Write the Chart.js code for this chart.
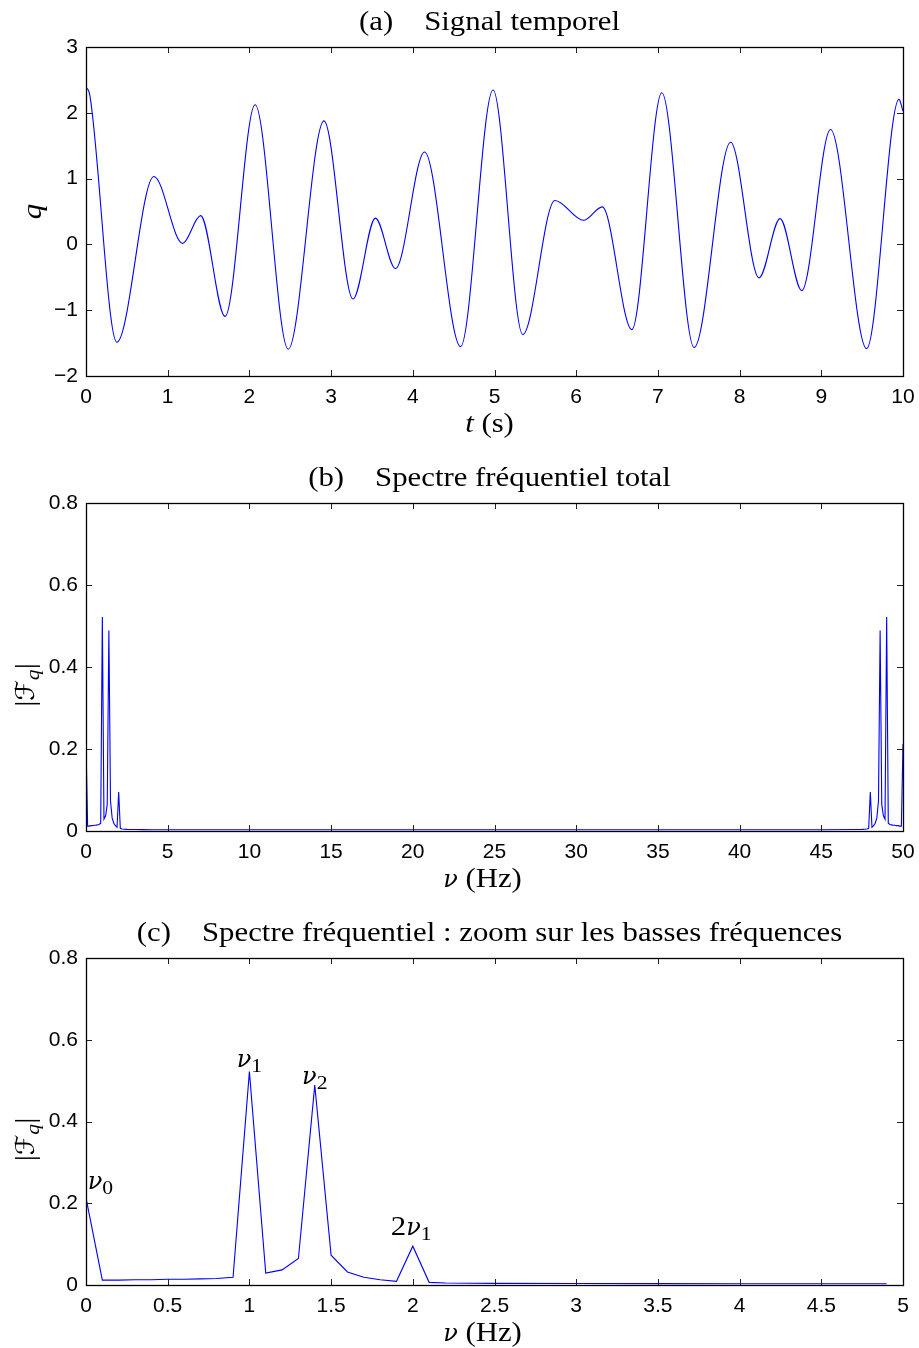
<!DOCTYPE html>
<html><head><meta charset="utf-8">
<script src="https://cdn.jsdelivr.net/npm/chart.js@4.4.1/dist/chart.umd.min.js"></script>
<style>
html,body{margin:0;padding:0;background:#fff;}
#wrap{position:relative;width:919px;height:1348px;background:#fff;}
canvas{position:absolute;left:0;}
</style></head><body>
<div id="wrap">
<canvas id="ca" width="919" height="450" style="top:0px"></canvas>
<canvas id="cb" width="919" height="455" style="top:450px"></canvas>
<canvas id="cc" width="919" height="443" style="top:905px"></canvas>
</div>
<script>
// ---------- data ----------
// (a) time signal: sampled at the extrema read from the picture
const timeS = [0, 0.045, 0.377, 0.831, 1.183, 1.403, 1.702, 2.070, 2.475, 2.913, 3.268, 3.542, 3.788, 4.144, 4.585, 4.982, 5.346, 5.739, 6.090, 6.319, 6.681, 7.048, 7.444, 7.890, 8.238, 8.495, 8.761, 9.113, 9.555, 9.951, 10.0];
const qValues = [2.39, 2.28, -1.486, 1.033, 0.015, 0.438, -1.094, 2.122, -1.593, 1.878, -0.830, 0.400, -0.366, 1.405, -1.552, 2.346, -1.369, 0.667, 0.366, 0.570, -1.295, 2.305, -1.567, 1.552, -0.509, 0.392, -0.702, 1.746, -1.583, 2.204, 2.025];
const timeTicks = [0,1,2,3,4,5,6,7,8,9,10];
const timeTickLabels = ['0','1','2','3','4','5','6','7','8','9','10'];
const qTicks = [-2,-1,0,1,2,3];
const qTickLabels = ['\u22122','\u22121','0','1','2','3'];

// (b)/(c) spectrum |F_q|
const lowFreqHz  = [0, 0.1, 0.2, 0.3, 0.4, 0.5, 0.6, 0.7, 0.8, 0.9, 1.0, 1.1, 1.2, 1.3, 1.4, 1.5, 1.6, 1.7, 1.8, 1.9, 2.0, 2.1, 2.2, 2.5, 3.0, 3.5, 4.0, 4.5, 4.9];
const lowFreqAmp = [0.213, 0.012, 0.012, 0.013, 0.013, 0.014, 0.014, 0.015, 0.016, 0.019, 0.522, 0.029, 0.037, 0.065, 0.489, 0.073, 0.032, 0.019, 0.013, 0.009, 0.095, 0.0065, 0.005, 0.004, 0.0035, 0.0033, 0.0032, 0.003, 0.003];
const midFreqHz  = [10, 20, 25, 30, 40];
const midFreqAmp = [0.003, 0.003, 0.003, 0.003, 0.003];
const highFreqHz  = [45, 47, 47.5, 47.8, 47.9, 48.0, 48.1, 48.2, 48.3, 48.4, 48.5, 48.6, 48.7, 48.8, 48.9, 49.0, 49.1, 49.2, 49.3, 49.4, 49.5, 49.6, 49.7, 49.8, 49.9, 50.0];
const highFreqAmp = [0.003, 0.0035, 0.004, 0.005, 0.0065, 0.095, 0.009, 0.013, 0.019, 0.032, 0.073, 0.489, 0.065, 0.037, 0.029, 0.522, 0.019, 0.016, 0.015, 0.014, 0.014, 0.013, 0.013, 0.012, 0.012, 0.213];
const fullFreqTicks = [0,5,10,15,20,25,30,35,40,45,50];
const fullFreqTickLabels = ['0','5','10','15','20','25','30','35','40','45','50'];
const zoomFreqTicks = [0,0.5,1,1.5,2,2.5,3,3.5,4,4.5,5];
const zoomFreqTickLabels = ['0','0.5','1','1.5','2','2.5','3','3.5','4','4.5','5'];
const ampTicks = [0,0.2,0.4,0.6,0.8];
const ampTickLabels = ['0','0.2','0.4','0.6','0.8'];

// peak annotations (c), anchored in data units
const peakLabelMain = ['\u03BD', '\u03BD', '\u03BD', '2\u03BD'];
const peakLabelSub  = ['0', '1', '2', '1'];
const peakLabelFreq = [0.01, 1.0, 1.4, 1.99];
const peakLabelAmp  = [0.235, 0.534, 0.492, 0.122];

// ---------- drawing ----------
const SERIF = '"Liberation Serif", "DejaVu Serif", serif';
const GREEK = '"DejaVu Serif", "Liberation Serif", serif';
const SANS = '"Liberation Sans", Arial, Helvetica, sans-serif';
const FS = 27, SUB = 19, SX = 1.14;
const rom = (t) => ({t, font: FS + 'px ' + SERIF, sx: SX});
const ita = (t) => ({t, font: 'italic ' + FS + 'px ' + SERIF, sx: SX});
const nu = () => ({t: '\u03BD', font: 'italic 24px ' + GREEK, sx: 1.0});
const sub = (t, it) => ({t, font: (it ? 'italic ' : '') + SUB + 'px ' + SERIF, dy: 5, sx: SX});
const gap = (w) => ({gap: w});

function drawRich(ctx, segs, x, y, align) {
  let w = 0;
  segs.forEach(s => {
    if (s.gap != null) s.w = s.gap;
    else { ctx.font = s.font; s.w = ctx.measureText(s.t).width * (s.sx || 1); }
    w += s.w;
  });
  let cx = align === 'center' ? x - w / 2 : (align === 'right' ? x - w : x);
  ctx.textAlign = 'left'; ctx.textBaseline = 'alphabetic'; ctx.fillStyle = '#000';
  segs.forEach(s => {
    if (s.t) {
      ctx.save();
      ctx.font = s.font;
      ctx.translate(cx, y + (s.dy || 0));
      ctx.scale(s.sx || 1, 1);
      ctx.fillText(s.t, 0, 0);
      ctx.restore();
    }
    cx += s.w;
  });
}

const framePlugin = {
  id: 'frame',
  afterDatasetsDraw(chart) {
    const {ctx, chartArea: a, scales: {x, y}} = chart;
    ctx.save();
    ctx.strokeStyle = '#222'; ctx.lineWidth = 1;
    ctx.beginPath();
    x.ticks.forEach(t => {
      const px = Math.round(x.getPixelForValue(t.value)) + 0.5;
      ctx.moveTo(px, a.bottom); ctx.lineTo(px, a.bottom - 6);
      ctx.moveTo(px, a.top); ctx.lineTo(px, a.top + 6);
    });
    y.ticks.forEach(t => {
      const py = Math.round(y.getPixelForValue(t.value)) + 0.5;
      ctx.moveTo(a.left, py); ctx.lineTo(a.left + 6, py);
      ctx.moveTo(a.right, py); ctx.lineTo(a.right - 6, py);
    });
    ctx.stroke();
    ctx.strokeStyle = '#000'; ctx.lineWidth = 1.3;
    ctx.strokeRect(Math.round(a.left) + 0.5, Math.round(a.top) + 0.5, Math.round(a.right - a.left), Math.round(a.bottom - a.top));
    ctx.restore();
  }
};

const textPlugin = {
  id: 'texts',
  afterDraw(chart, args, opts) {
    const {ctx, chartArea: a, scales: {x, y}} = chart;
    const cx = (a.left + a.right) / 2 - 5;
    ctx.save();
    drawRich(ctx, opts.title, cx, a.top - 17, 'center');
    drawRich(ctx, opts.xlabel, cx + (opts.xlabelDx || 0), a.bottom + 56, 'center');
    ctx.save();
    ctx.translate(opts.ylabelX, (a.top + a.bottom) / 2 + opts.ylabelDy);
    ctx.rotate(-Math.PI / 2);
    drawRich(ctx, opts.ylabel, 0, 0, 'center');
    ctx.restore();
    if (opts.peaks) {
      peakLabelMain.forEach((m, i) => {
        const px = x.getPixelForValue(peakLabelFreq[i]);
        const py = y.getPixelForValue(peakLabelAmp[i]);
        const segs = [];
        if (m.length > 1) segs.push(rom(m.slice(0, -1)));
        segs.push(nu());
        segs.push(sub(peakLabelSub[i]));
        drawRich(ctx, segs, px, py, i === 0 ? 'left' : 'center');
      });
    }
    ctx.restore();
  }
};

function noPad(s) { s.paddingLeft = 0; s.paddingRight = 0; s.paddingTop = 0; s.paddingBottom = 0; }

function axisX(min, max, ticks, labels, h) {
  return {
    type: 'linear', min, max,
    grid: {display: false, drawTicks: false}, border: {display: false},
    ticks: {font: {family: SANS, size: 21}, color: '#000', padding: 9, maxRotation: 0, autoSkip: false,
            callback: (v, i) => labels[i]},
    afterBuildTicks: s => { s.ticks = ticks.map(v => ({value: v})); },
    afterFit: s => { s.height = h; noPad(s); }
  };
}
function axisY(min, max, ticks, labels) {
  return {
    type: 'linear', min, max,
    grid: {display: false, drawTicks: false}, border: {display: false},
    ticks: {font: {family: SANS, size: 21}, color: '#000', padding: 8, autoSkip: false,
            callback: (v, i) => labels[i]},
    afterBuildTicks: s => { s.ticks = ticks.map(v => ({value: v})); },
    afterFit: s => { s.width = 86; noPad(s); }
  };
}

function makeChart(id, points, opts) {
  return new Chart(document.getElementById(id), {
    type: 'line',
    data: {datasets: [{data: points, borderColor: '#0000ff', borderWidth: 1.1, pointRadius: 0,
      fill: false, tension: 0, cubicInterpolationMode: opts.monotone ? 'monotone' : 'default'}]},
    options: {
      responsive: false, animation: false, events: [],
      layout: {padding: {left: 0, right: 16, top: opts.top, bottom: 0}},
      scales: {x: opts.x, y: opts.y},
      plugins: {legend: {display: false}, tooltip: {enabled: false}, title: {display: false},
        texts: opts.texts}
    },
    plugins: [framePlugin, textPlugin]
  });
}

const pts = (xs, ys) => xs.map((v, i) => ({x: v, y: ys[i]}));

makeChart('ca', pts(timeS, qValues), {
  monotone: true, top: 47,
  x: axisX(0, 10, timeTicks, timeTickLabels, 74),
  y: axisY(-2, 3, qTicks, qTickLabels),
  texts: {title: [rom('(a)'), gap(31), rom('Signal temporel')],
          xlabel: [ita('t'), rom(' (s)')],
          ylabel: [ita('q')], ylabelX: 41, ylabelDy: 0}
});

const fullHz = lowFreqHz.concat(midFreqHz, highFreqHz);
const fullAmp = lowFreqAmp.concat(midFreqAmp, highFreqAmp);
const FqLabel = [rom('|'), {t: '\u2131', font: '26px "DejaVu Serif", "DejaVu Sans", serif', sx: 1.0}, sub('q', true), rom('|')];

makeChart('cb', pts(fullHz, fullAmp), {
  top: 53,
  x: axisX(0, 50, fullFreqTicks, fullFreqTickLabels, 74),
  y: axisY(0, 0.8, ampTicks, ampTickLabels),
  texts: {title: [rom('(b)'), gap(31), rom('Spectre fr\u00e9quentiel total')],
          xlabel: [nu(), rom(' (Hz)')], xlabelDx: -7,
          ylabel: FqLabel, ylabelX: 34, ylabelDy: 18}
});

makeChart('cc', pts(lowFreqHz, lowFreqAmp), {
  top: 53,
  x: axisX(0, 5, zoomFreqTicks, zoomFreqTickLabels, 63),
  y: axisY(0, 0.8, ampTicks, ampTickLabels),
  texts: {title: [rom('(c)'), gap(31), rom('Spectre fr\u00e9quentiel : zoom sur les basses fr\u00e9quences')],
          xlabel: [nu(), rom(' (Hz)')], xlabelDx: -7,
          ylabel: FqLabel, ylabelX: 34, ylabelDy: 18, peaks: true}
});
</script>
</body></html>
